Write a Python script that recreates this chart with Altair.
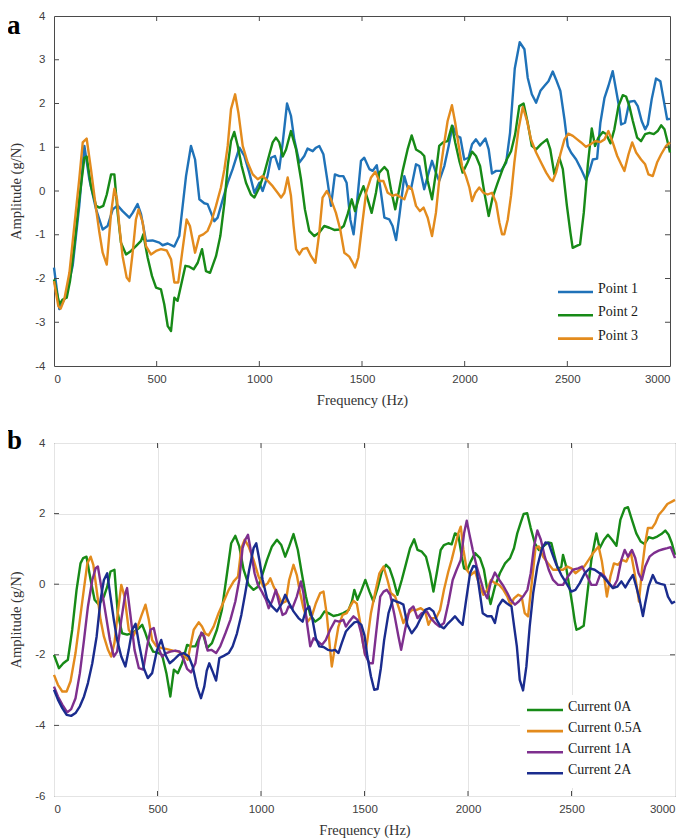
import altair as alt
import pandas as pd

# ---------------- shared ticks ----------------
X_TICKS = [0, 500, 1000, 1500, 2000, 2500, 3000]
A_Y_TICKS = [-4, -3, -2, -1, 0, 1, 2, 3, 4]
B_Y_TICKS = [-6, -4, -2, 0, 2, 4]

# ---------------- panel a ----------------
A_NAMES = ["Point 1", "Point 2", "Point 3"]
A_COLORS = ["#1f72b8", "#178a17", "#e38b1d"]

A_P1_FREQ = [0, 26, 58, 91, 123, 148, 172, 205, 237, 261, 286, 310, 334, 367, 383, 407, 424, 448, 480, 513,
             529, 554, 586, 610, 643, 667, 687, 708, 732, 748, 765, 781, 797, 822, 846, 870, 903, 927, 951, 976,
             1000, 1016, 1040, 1057, 1076, 1097, 1114, 1135, 1154, 1170, 1195, 1219, 1235, 1260, 1276, 1292, 1312,
             1333, 1349, 1368, 1390, 1409, 1425, 1443, 1459, 1477, 1495, 1511, 1536, 1552, 1572, 1588, 1609, 1633,
             1649, 1666, 1682, 1706, 1722, 1739, 1763, 1779, 1803, 1820, 1841, 1860, 1876, 1901, 1922, 1941, 1962,
             1979, 1998, 2019, 2036, 2055, 2075, 2101, 2117, 2133, 2153, 2177, 2202, 2221, 2244, 2268, 2291, 2307,
             2327, 2348, 2369, 2388, 2408, 2429, 2445, 2466, 2486, 2502, 2518, 2543, 2567, 2591, 2608, 2624, 2645,
             2661, 2681, 2700, 2721, 2737, 2754, 2762, 2781, 2802, 2827, 2843, 2862, 2879, 2892, 2911, 2932, 2953,
             2970, 2986, 3000]
A_P1_AMP = [-1.75, -2.70, -2.40, -1.71, -0.34, 1.03, 0.27, -0.42, -0.88, -0.80, -0.42, -0.33, -0.46, -0.61, -0.50,
            -0.30, -0.53, -1.14, -1.13, -1.18, -1.24, -1.20, -1.27, -1.03, 0.34, 1.03, 0.72, -0.19, -0.28, -0.30,
            -0.50, -0.69, -0.61, -0.19, 0.19, 0.50, 0.99, 0.80, 0.42, -0.04, 0.19, 0.00, 0.34, 0.76, 0.80, 0.50,
            1.11, 2.00, 1.72, 1.18, 0.65, 0.80, 0.97, 0.91, 0.99, 1.03, 0.84, 0.19, -0.34, 0.38, 0.34, 0.34, 0.19,
            -0.65, -0.99, -0.20, 0.69, 0.76, 0.50, 0.46, 0.59, 0.11, -0.61, -0.65, -0.80, -1.12, -0.57, 0.34, 0.08,
            0.05, 0.61, 0.57, 0.04, 0.34, 0.69, 0.42, 0.23, 0.57, 1.03, 1.49, 1.26, 1.22, 0.72, 0.76, 1.07, 1.18,
            1.04, 1.20, 0.95, 0.40, 0.46, 0.46, 0.65, 1.33, 2.80, 3.40, 3.24, 2.59, 2.21, 2.02, 2.29, 2.40, 2.51,
            2.73, 2.55, 2.29, 1.64, 1.03, 0.88, 0.72, 0.50, 0.25, 0.46, 0.72, 0.74, 1.56, 2.13, 2.40, 2.74, 2.32,
            1.87, 1.52, 1.56, 2.04, 2.06, 1.94, 1.60, 1.41, 1.52, 2.10, 2.57, 2.51, 2.06, 1.64, 1.65]

A_P2_FREQ = [0, 26, 42, 62, 78, 99, 123, 148, 159, 180, 205, 221, 240, 257, 278, 294, 310, 326, 351, 375, 399,
             424, 435, 456, 477, 497, 521, 537, 554, 570, 586, 602, 618, 640, 659, 680, 700, 721, 740, 760, 789,
             810, 830, 846, 862, 878, 895, 914, 935, 959, 976, 1000, 1025, 1049, 1065, 1081, 1097, 1114, 1130,
             1154, 1179, 1203, 1222, 1243, 1268, 1292, 1316, 1341, 1365, 1390, 1411, 1430, 1450, 1466, 1487, 1507,
             1528, 1547, 1568, 1584, 1609, 1625, 1641, 1662, 1678, 1698, 1722, 1742, 1763, 1787, 1803, 1820, 1841,
             1860, 1876, 1895, 1917, 1938, 1954, 1974, 1990, 2014, 2036, 2055, 2075, 2096, 2117, 2136, 2161, 2185,
             2205, 2226, 2246, 2266, 2287, 2307, 2327, 2348, 2372, 2401, 2417, 2437, 2461, 2478, 2498, 2515, 2526,
             2543, 2562, 2580, 2600, 2619, 2635, 2651, 2673, 2689, 2710, 2729, 2749, 2770, 2786, 2802, 2819, 2840,
             2859, 2879, 2900, 2921, 2940, 2957, 2973, 2989, 3000]
A_P2_AMP = [-2.02, -2.59, -2.48, -2.44, -2.06, -1.26, -0.19, 0.76, 0.79, 0.11, -0.34, -0.38, -0.34, -0.08, 0.38,
            0.38, -0.50, -1.18, -1.45, -1.37, -1.26, -1.14, -0.99, -1.52, -1.94, -2.21, -2.25, -2.59, -3.09,
            -3.20, -2.44, -2.51, -2.17, -1.71, -1.73, -1.79, -1.64, -1.33, -1.83, -1.87, -1.49, -1.03, -0.27, 0.57,
            1.14, 1.35, 1.03, 0.57, 0.19, -0.08, -0.15, 0.08, 0.42, 0.84, 1.11, 1.22, 1.11, 0.79, 0.95, 1.37, 0.95,
            0.27, -0.42, -0.91, -1.03, -0.95, -0.80, -0.84, -0.89, -0.88, -0.80, -0.53, -0.19, -0.46, -0.13, 0.11,
            -0.19, -0.50, -0.04, 0.42, 0.55, 0.46, 0.04, -0.42, -0.04, 0.46, 0.95, 1.27, 0.95, 0.88, 0.80, 0.23,
            -0.19, 0.42, 1.03, 1.11, 1.14, 1.49, 1.11, 0.69, 0.42, 0.65, 0.90, 0.80, 0.57, -0.04, -0.57, -0.15,
            0.19, 0.50, 0.72, 0.91, 1.30, 1.94, 2.00, 1.56, 1.03, 0.95, 1.07, 1.18, 0.95, 0.38, 0.76, 0.50, -0.34,
            -0.95, -1.30, -1.26, -1.22, -0.50, 0.61, 1.43, 1.03, 1.22, 1.35, 1.30, 1.09, 1.41, 1.94, 2.19, 2.16,
            1.94, 1.60, 1.22, 1.14, 1.30, 1.33, 1.30, 1.37, 1.50, 1.41, 1.11, 0.88]

A_P3_FREQ = [0, 21, 32, 50, 75, 99, 123, 140, 159, 180, 201, 221, 237, 257, 278, 294, 307, 318, 334, 354, 367,
             383, 399, 412, 432, 448, 472, 497, 521, 549, 570, 586, 605, 623, 646, 662, 687, 708, 727, 748, 765,
             789, 813, 830, 846, 862, 882, 898, 919, 943, 968, 992, 1016, 1041, 1065, 1089, 1106, 1122, 1138, 1154,
             1167, 1179, 1195, 1211, 1232, 1252, 1273, 1292, 1308, 1329, 1349, 1373, 1394, 1414, 1438, 1455, 1466,
             1482, 1500, 1520, 1544, 1565, 1584, 1604, 1625, 1649, 1666, 1690, 1706, 1727, 1743, 1763, 1782, 1800,
             1820, 1841, 1860, 1880, 1901, 1917, 1938, 1954, 1971, 1987, 2006, 2023, 2036, 2052, 2071, 2091, 2112,
             2133, 2153, 2169, 2182, 2193, 2210, 2226, 2242, 2262, 2283, 2304, 2323, 2348, 2372, 2397, 2417, 2429,
             2445, 2466, 2486, 2505, 2527, 2548, 2567, 2591, 2613, 2635, 2661, 2681, 2700, 2721, 2743, 2762, 2778,
             2798, 2816, 2835, 2859, 2879, 2895, 2916, 2937, 2957, 2981, 3000]
A_P3_AMP = [-2.06, -2.63, -2.69, -2.48, -1.87, -0.80, 0.27, 1.11, 1.20, 0.50, -0.27, -0.95, -1.41, -1.68, -0.50,
            0.05, -0.19, -0.80, -1.49, -1.98, -2.06, -1.41, -0.65, -0.42, -0.72, -1.26, -1.45, -1.37, -1.33, -1.36,
            -1.56, -2.09, -2.09, -1.45, -0.65, -0.80, -1.41, -1.03, -0.99, -0.91, -0.72, -0.34, 0.08, 0.50, 1.03,
            1.87, 2.21, 1.79, 1.03, 0.65, 0.38, 0.27, 0.34, 0.23, 0.11, -0.04, -0.15, -0.04, 0.31, -0.11, -0.80,
            -1.33, -1.45, -1.33, -1.30, -1.49, -1.64, -0.95, -0.15, 0.00, -0.19, -0.50, -0.88, -1.41, -1.50, -1.64,
            -1.75, -1.52, -0.80, -0.04, 0.31, 0.44, 0.23, 0.23, -0.04, -0.11, -0.08, -0.15, -0.19, 0.11, 0.04,
            -0.34, -0.46, -0.38, -0.61, -1.03, -0.50, 0.42, 1.11, 1.60, 1.96, 1.56, 1.03, 0.57, 0.34, 0.08, -0.23,
            -0.04, 0.08, -0.04, -0.08, -0.04, -0.27, -0.72, -0.99, -0.99, -0.65, -0.10, 0.65, 1.41, 1.92, 1.60,
            1.18, 0.88, 0.65, 0.42, 0.27, 0.23, 0.42, 0.84, 1.18, 1.31, 1.26, 1.18, 1.11, 1.01, 1.07, 1.14, 1.12,
            1.18, 1.37, 1.11, 0.80, 0.61, 0.46, 0.84, 1.11, 0.88, 0.72, 0.61, 0.38, 0.34, 0.65, 0.84, 1.03, 1.11]

# ---------------- panel b ----------------
B_NAMES = ["Current 0A", "Current 0.5A", "Current 1A", "Current 2A"]
B_COLORS = ["#178a17", "#e38b1d", "#7e2f8e", "#1a2c8e"]

B_C0_FREQ = [0, 24, 45, 67, 88, 109, 128, 141, 157, 177, 196, 217, 241, 257, 273, 292, 308, 329, 353, 378, 405,
             426, 442, 458, 479, 498, 522, 543, 562, 579, 598, 619, 643, 662, 683, 704, 719, 739, 763, 787, 811,
             836, 856, 876, 895, 916, 940, 964, 985, 1004, 1029, 1053, 1077, 1098, 1117, 1136, 1157, 1178, 1197,
             1217, 1238, 1262, 1286, 1307, 1326, 1350, 1374, 1398, 1423, 1439, 1451, 1466, 1484, 1504, 1524, 1543,
             1563, 1584, 1604, 1621, 1640, 1659, 1680, 1701, 1720, 1740, 1756, 1777, 1797, 1817, 1833, 1849, 1868,
             1884, 1905, 1921, 1937, 1953, 1970, 1981, 1997, 2013, 2034, 2058, 2077, 2093, 2109, 2130, 2154, 2179,
             2203, 2222, 2238, 2255, 2269, 2286, 2303, 2323, 2342, 2363, 2387, 2403, 2419, 2435, 2451, 2459, 2472,
             2487, 2503, 2516, 2524, 2540, 2559, 2577, 2596, 2620, 2636, 2657, 2676, 2696, 2717, 2736, 2757, 2773,
             2792, 2813, 2834, 2853, 2873, 2893, 2914, 2934, 2953, 2969, 2985, 3000]
B_C0_AMP = [-2.00, -2.38, -2.24, -2.14, -1.29, -0.16, 0.59, 0.74, 0.78, 0.12, -0.44, -0.58, -0.35, -0.07, 0.36,
            0.41, -0.82, -1.39, -1.43, -1.39, -1.27, -1.15, -1.39, -1.67, -1.91, -1.93, -2.00, -2.52, -3.18, -2.42,
            -2.52, -2.24, -1.72, -1.76, -1.76, -1.48, -1.39, -1.81, -1.67, -1.29, -0.73, 0.31, 1.16, 1.37, 1.07,
            0.41, -0.02, -0.16, -0.07, 0.22, 0.69, 1.07, 1.26, 1.11, 0.78, 1.07, 1.42, 0.97, 0.31, -0.35, -0.87,
            -1.06, -0.96, -0.77, -0.82, -0.90, -0.87, -0.82, -0.73, -0.49, -0.16, -0.44, -0.19, 0.12, -0.21, -0.49,
            -0.11, 0.36, 0.55, 0.45, 0.12, -0.30, 0.12, 0.59, 1.02, 1.27, 0.97, 0.92, 0.78, 0.31, -0.21, 0.31, 0.97,
            1.11, 1.16, 1.13, 1.44, 1.40, 0.78, 0.45, 0.41, 0.64, 0.88, 0.74, 0.41, -0.16, -0.56, -0.07, 0.31, 0.59,
            0.74, 1.02, 1.44, 1.75, 1.99, 2.01, 1.59, 1.16, 0.97, 1.07, 1.18, 1.16, 0.78, 0.41, 0.50, 0.83, 0.55,
            0.03, -0.54, -1.06, -1.29, -1.25, -1.18, -0.25, 0.69, 1.44, 1.02, 1.26, 1.40, 1.26, 1.09, 1.82, 2.15,
            2.18, 1.82, 1.44, 1.21, 1.14, 1.33, 1.30, 1.35, 1.42, 1.52, 1.40, 1.16, 0.83]

B_C05_FREQ = [0, 19, 40, 61, 80, 104, 125, 145, 161, 177, 190, 206, 225, 241, 261, 276, 292, 308, 325, 341, 361,
              382, 402, 421, 442, 458, 474, 495, 522, 546, 575, 603, 627, 646, 659, 675, 699, 715, 731, 747, 771,
              795, 820, 844, 868, 889, 905, 921, 940, 964, 988, 1012, 1033, 1045, 1061, 1082, 1101, 1120, 1136,
              1157, 1173, 1189, 1205, 1226, 1246, 1265, 1286, 1302, 1318, 1334, 1342, 1355, 1374, 1394, 1414, 1431,
              1447, 1463, 1478, 1492, 1503, 1514, 1531, 1551, 1572, 1592, 1611, 1627, 1648, 1669, 1688, 1707, 1728,
              1752, 1772, 1793, 1809, 1825, 1846, 1865, 1884, 1905, 1921, 1937, 1953, 1965, 1978, 1994, 2013, 2034,
              2055, 2074, 2093, 2111, 2130, 2151, 2171, 2190, 2206, 2222, 2243, 2259, 2274, 2290, 2306, 2326, 2342,
              2363, 2387, 2411, 2435, 2459, 2480, 2499, 2519, 2540, 2561, 2583, 2604, 2631, 2647, 2660, 2671, 2688,
              2705, 2725, 2745, 2765, 2786, 2802, 2818, 2826, 2842, 2856, 2869, 2889, 2905, 2921, 2942, 2963, 2985,
              3000]
B_C05_AMP = [-2.57, -2.85, -3.04, -3.04, -2.75, -1.95, -1.01, -0.11, 0.59, 0.78, 0.55, -0.16, -1.01, -1.48, -1.86,
             -2.05, -1.67, -0.82, -0.02, -0.35, -1.29, -1.48, -1.24, -0.91, -0.58, -1.01, -1.58, -1.76, -1.81, -1.84,
             -1.88, -1.91, -2.00, -2.14, -1.76, -1.29, -1.08, -1.20, -1.40, -1.45, -1.20, -0.82, -0.49, -0.16, 0.08,
             0.22, 1.02, 1.26, 1.07, 0.69, 0.22, -0.07, 0.03, 0.17, -0.07, -0.30, -0.54, -0.49, 0.12, 0.55, 0.26,
             -0.25, -0.68, -1.06, -0.90, -0.54, -0.25, -0.21, -0.87, -1.86, -2.33, -1.86, -1.20, -0.87, -0.82, -0.63,
             -0.47, -0.55, -1.05, -1.65, -2.00, -1.58, -0.82, -0.25, 0.31, 0.50, 0.12, -0.25, -0.35, -0.73, -1.10,
             -0.87, -0.73, -0.73, -0.68, -0.77, -1.15, -0.96, -0.96, -0.73, -0.16, 0.36, 0.69, 1.07, 1.44, 1.63,
             0.97, 0.41, 0.26, 0.36, -0.02, -0.30, -0.16, 0.12, 0.03, -0.02, -0.16, -0.35, -0.60, -0.40, -0.30,
             -0.35, -0.82, -0.91, -0.07, 1.02, 1.07, 0.78, 0.59, 0.41, 0.41, 0.41, 0.50, 0.45, 0.31, 0.41, 0.50,
             0.69, 0.88, 1.07, 0.64, 0.12, -0.35, 0.22, 0.59, 0.55, 0.69, 0.64, 0.92, 0.41, -0.16, -0.49, 0.50,
             1.16, 1.59, 1.59, 1.73, 1.96, 2.10, 2.27, 2.34, 2.39]

B_C1_FREQ = [0, 19, 40, 64, 83, 104, 125, 145, 164, 185, 201, 212, 228, 249, 270, 289, 305, 325, 345, 353, 370,
             389, 410, 431, 450, 466, 482, 501, 522, 543, 562, 587, 607, 627, 643, 662, 683, 699, 712, 726, 742,
             760, 783, 803, 828, 852, 876, 895, 911, 924, 937, 953, 969, 985, 1004, 1024, 1037, 1053, 1072, 1088,
             1104, 1120, 1133, 1152, 1173, 1193, 1205, 1222, 1238, 1254, 1275, 1294, 1313, 1334, 1358, 1378, 1398,
             1410, 1426, 1447, 1467, 1484, 1503, 1524, 1540, 1556, 1576, 1592, 1608, 1624, 1643, 1664, 1677, 1696,
             1717, 1736, 1756, 1777, 1801, 1820, 1841, 1862, 1884, 1905, 1926, 1945, 1965, 1981, 1994, 2006, 2023,
             2042, 2061, 2077, 2093, 2109, 2130, 2151, 2171, 2190, 2206, 2227, 2245, 2266, 2287, 2303, 2319, 2335,
             2352, 2371, 2390, 2411, 2435, 2459, 2483, 2507, 2532, 2551, 2572, 2596, 2620, 2641, 2660, 2680, 2700,
             2721, 2741, 2757, 2773, 2792, 2808, 2824, 2840, 2856, 2877, 2898, 2921, 2942, 2963, 2979, 3000]
B_C1_AMP = [-2.90, -3.18, -3.41, -3.63, -3.54, -3.23, -2.52, -1.58, -0.63, 0.12, 0.45, 0.50, -0.07, -0.82, -1.58,
            -2.05, -1.91, -1.01, -0.25, -0.11, -0.91, -1.86, -2.38, -2.42, -1.76, -1.29, -1.24, -1.76, -2.05, -1.95,
            -1.91, -1.88, -1.91, -2.14, -2.40, -2.50, -2.24, -1.62, -1.37, -1.48, -1.88, -1.86, -1.95, -1.76, -1.39,
            -1.01, -0.49, 0.12, 1.02, 1.26, 1.40, 0.88, 0.31, -0.02, -0.21, -0.44, -0.68, -0.49, -0.16, -0.54,
            -0.87, -0.82, -0.63, -0.68, -0.35, 0.08, -0.25, -1.10, -1.76, -1.53, -1.62, -1.72, -1.58, -1.29, -1.03,
            -1.06, -1.01, -1.20, -1.06, -0.91, -1.01, -1.39, -2.00, -2.24, -2.24, -1.39, -0.35, -0.21, -0.16, -0.30,
            -0.82, -1.48, -1.86, -1.29, -0.73, -0.63, -0.96, -0.82, -0.77, -0.96, -1.10, -1.20, -1.10, -0.54, 0.12,
            0.41, 0.69, 1.44, 1.80, 1.44, 0.97, 0.50, 0.12, -0.21, -0.40, 0.03, 0.33, 0.12, -0.05, -0.25, -0.44,
            -0.58, -0.49, -0.35, -0.16, 0.31, 1.07, 1.52, 1.26, 0.78, 0.41, 0.12, -0.02, -0.02, 0.22, 0.41, 0.45,
            0.50, 0.26, -0.02, -0.02, 0.31, 0.22, 0.03, -0.11, 0.12, 0.69, 0.97, 0.78, 0.97, 0.74, 0.31, 0.12,
            0.50, 0.78, 0.88, 0.95, 0.99, 1.02, 1.05, 0.74]

B_C2_FREQ = [0, 19, 40, 61, 83, 104, 125, 145, 164, 185, 206, 225, 241, 257, 273, 289, 305, 325, 345, 361, 378,
             394, 410, 434, 453, 474, 498, 518, 538, 559, 579, 603, 627, 651, 670, 691, 710, 726, 738, 750, 766,
             783, 799, 820, 844, 863, 884, 905, 924, 943, 964, 977, 992, 1008, 1029, 1053, 1077, 1101, 1117, 1136,
             1157, 1181, 1201, 1217, 1233, 1249, 1265, 1281, 1302, 1323, 1342, 1358, 1374, 1390, 1410, 1431, 1451,
             1467, 1485, 1500, 1514, 1531, 1547, 1563, 1579, 1595, 1616, 1637, 1653, 1669, 1688, 1707, 1728, 1752,
             1772, 1793, 1814, 1833, 1849, 1868, 1884, 1905, 1921, 1937, 1958, 1974, 1990, 2010, 2026, 2039, 2055,
             2071, 2093, 2114, 2130, 2146, 2167, 2187, 2210, 2223, 2236, 2250, 2266, 2282, 2298, 2315, 2335, 2355,
             2374, 2390, 2406, 2427, 2451, 2475, 2499, 2519, 2540, 2564, 2588, 2612, 2636, 2660, 2680, 2700, 2721,
             2741, 2760, 2781, 2797, 2813, 2829, 2845, 2856, 2872, 2893, 2910, 2930, 2950, 2966, 2985, 3000]
B_C2_AMP = [-2.99, -3.27, -3.51, -3.70, -3.73, -3.65, -3.46, -3.18, -2.80, -2.24, -1.48, -0.44, 0.12, 0.31, -0.35,
            -1.01, -1.58, -2.05, -2.33, -1.86, -1.29, -1.12, -1.67, -2.38, -2.66, -2.52, -1.86, -1.58, -2.00, -2.24,
            -2.14, -2.00, -1.95, -2.05, -2.33, -2.90, -3.23, -2.90, -2.45, -2.24, -2.47, -2.73, -2.09, -2.03, -1.95,
            -1.76, -1.39, -0.87, -0.25, 0.41, 1.02, 1.16, 0.69, 0.12, -0.40, -0.63, -0.77, -0.54, -0.30, -0.54,
            -0.77, -0.96, -1.06, -0.73, -0.63, -1.01, -1.53, -1.76, -1.78, -1.86, -1.88, -1.86, -1.95, -1.67, -1.34,
            -1.20, -1.08, -1.06, -1.15, -1.45, -2.05, -2.61, -2.99, -2.97, -2.38, -1.58, -0.82, -0.44, -0.49, -0.52,
            -0.58, -1.15, -1.39, -1.20, -0.96, -0.73, -0.68, -0.77, -1.01, -1.20, -1.25, -1.10, -1.01, -0.91, -1.06,
            -1.15, -0.49, 0.31, 0.52, 0.50, -0.16, -0.82, -0.91, -0.91, -1.10, -0.63, -0.44, -0.54, -0.63, -1.20,
            -1.76, -2.71, -3.01, -2.33, -1.20, -0.25, 0.50, 0.97, 1.18, 1.16, 0.88, 0.55, 0.26, 0.03, -0.21, -0.16,
            0.03, 0.31, 0.45, 0.41, 0.31, 0.17, 0.03, -0.11, -0.07, 0.08, -0.09, 0.12, 0.26, -0.07, -0.44, -0.90,
            -0.54, -0.07, 0.26, 0.05, 0.01, -0.02, -0.35, -0.54, -0.49]

SERIF = "Liberation Serif"
SANS = "Liberation Sans"
FRAME = "#4a4a4a"


def make_df(names, freqs, amps):
    rows = []
    for name, fs, amps_ in zip(names, freqs, amps):
        for f, a in zip(fs, amps_):
            rows.append({"freq": f, "amp": a, "series": name})
    return pd.DataFrame(rows)


def panel(df, names, colors, yticks, W, H, grid, letter, letter_y,
          leg_x0, leg_x1, leg_y0, leg_dy, box=None):
    xs = alt.Scale(domain=[0, 3000], nice=False, zero=False)
    ys = alt.Scale(domain=[yticks[0], yticks[-1]], nice=False, zero=False)
    x_axis = alt.Axis(values=X_TICKS, title="Frequency (Hz)", grid=grid, ticks=False, tickSize=0,
                      domain=False, labelPadding=7, titlePadding=9, labelExpr="'' + datum.value")
    y_axis = alt.Axis(values=yticks, title="Amplitude (g/N)", grid=grid, ticks=False, tickSize=0,
                      domain=False, labelPadding=9, titlePadding=11, labelExpr="'' + datum.value")
    lines = alt.Chart(df).mark_line(strokeWidth=2.4, strokeJoin="round").encode(
        x=alt.X("freq:Q", scale=xs, axis=x_axis),
        y=alt.Y("amp:Q", scale=ys, axis=y_axis),
        color=alt.Color("series:N", scale=alt.Scale(domain=names, range=colors), legend=None),
    )
    xt = pd.DataFrame({"freq": X_TICKS[1:-1]})
    yt = pd.DataFrame({"amp": yticks[1:-1]})
    tick_top = alt.Chart(xt).mark_rule(color=FRAME, strokeWidth=1).encode(
        x=alt.X("freq:Q", scale=xs, axis=x_axis), y=alt.value(0), y2=alt.value(5))
    tick_bot = alt.Chart(xt).mark_rule(color=FRAME, strokeWidth=1).encode(
        x=alt.X("freq:Q", scale=xs, axis=x_axis), y=alt.value(H - 5), y2=alt.value(H))
    tick_l = alt.Chart(yt).mark_rule(color=FRAME, strokeWidth=1).encode(
        y=alt.Y("amp:Q", scale=ys, axis=y_axis), x=alt.value(0), x2=alt.value(5))
    tick_r = alt.Chart(yt).mark_rule(color=FRAME, strokeWidth=1).encode(
        y=alt.Y("amp:Q", scale=ys, axis=y_axis), x=alt.value(W - 5), x2=alt.value(W))

    layers = [lines, tick_top, tick_bot, tick_l, tick_r]
    if box is not None:
        layers.append(alt.Chart(pd.DataFrame({"k": [0]})).mark_rect(fill="white").encode(
            x=alt.value(box[0]), x2=alt.value(box[1]), y=alt.value(box[2]), y2=alt.value(box[3])))
    for i, (n, c) in enumerate(zip(names, colors)):
        one = pd.DataFrame({"t": [n]})
        yy = leg_y0 + i * leg_dy
        layers.append(alt.Chart(one).mark_rule(color=c, strokeWidth=2.6).encode(
            x=alt.value(leg_x0), x2=alt.value(leg_x1), y=alt.value(yy)))
        layers.append(alt.Chart(one).mark_text(align="left", baseline="middle", font=SERIF, fontSize=14,
                                               color="#1a1a1a").encode(
            text="t:N", x=alt.value(leg_x1 + 5), y=alt.value(yy - 3)))
    layers.append(alt.Chart(pd.DataFrame({"t": [letter]})).mark_text(
        align="left", baseline="alphabetic", font=SERIF, fontSize=27, fontWeight="bold", color="black").encode(
        text="t:N", x=alt.value(-47), y=alt.value(letter_y)))
    return alt.layer(*layers).properties(width=W, height=H)


df_a = make_df(A_NAMES, [A_P1_FREQ, A_P2_FREQ, A_P3_FREQ], [A_P1_AMP, A_P2_AMP, A_P3_AMP])
df_b = make_df(B_NAMES, [B_C0_FREQ, B_C05_FREQ, B_C1_FREQ, B_C2_FREQ],
               [B_C0_AMP, B_C05_AMP, B_C1_AMP, B_C2_AMP])

pa = panel(df_a, A_NAMES, A_COLORS, A_Y_TICKS, 616, 350, False, "a", 18,
           504, 539, 276, 23.3)
pb = panel(df_b, B_NAMES, B_COLORS, B_Y_TICKS, 621, 353, True, "b", 6,
           473, 509, 267, 21.1, box=(466, 621, 252, 345))

chart = alt.vconcat(pa, pb, spacing=18).resolve_scale(
    color="independent", x="independent", y="independent"
).properties(
    padding={"left": -2, "top": 1, "right": 0, "bottom": 0}
).configure_view(
    stroke=FRAME, strokeWidth=1
).configure_axis(
    labelFont=SANS, labelFontSize=11.5, labelColor="#404040",
    titleFont=SERIF, titleFontSize=14.5, titleFontWeight="normal", titleColor="#333333",
    gridColor="#e4e4e4", gridWidth=1
)

chart.save("out.html", embed_options={"renderer": "svg", "actions": False})
